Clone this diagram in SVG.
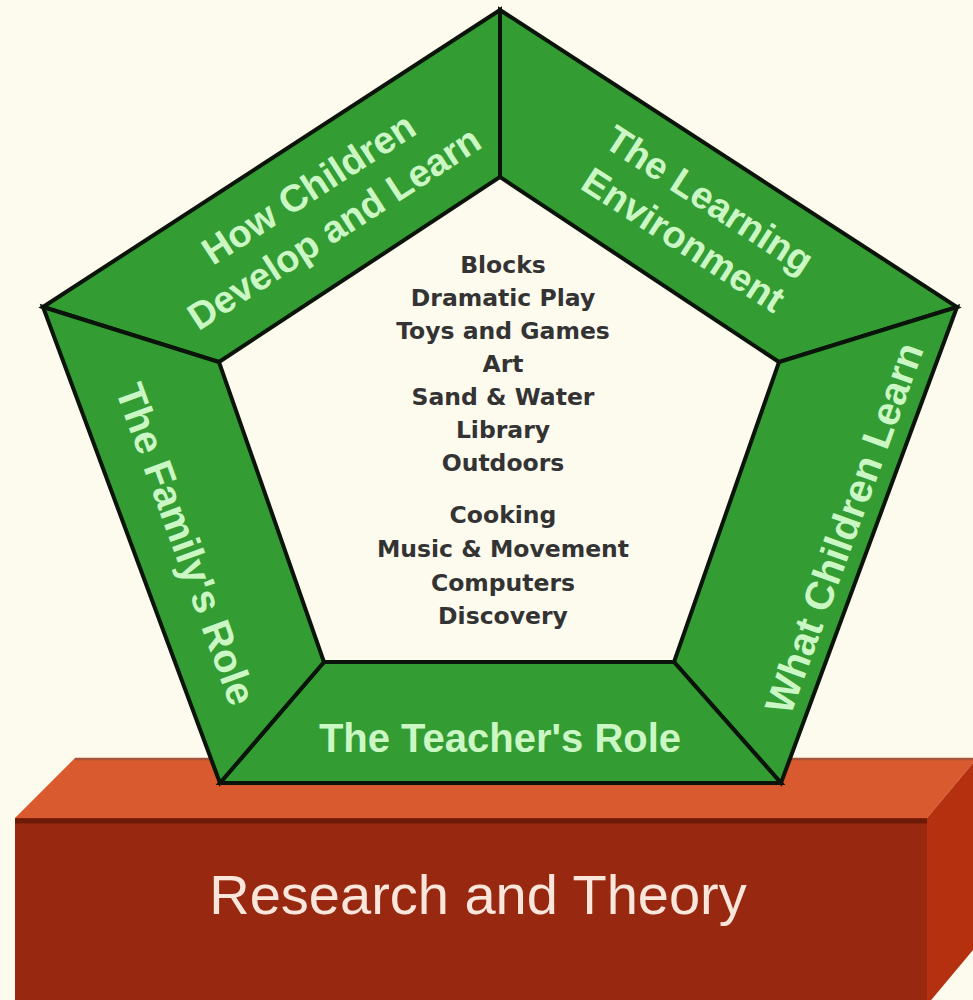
<svg xmlns="http://www.w3.org/2000/svg" width="973" height="1000" viewBox="0 0 973 1000">
  <style>
    .band { fill: #339c33; stroke: #0a140a; stroke-width: 4; stroke-linejoin: miter; }
    .bt { font-family: "Liberation Sans", Arial, sans-serif; font-weight: bold; font-size: 38px; fill: #cbf7c4; text-anchor: middle; }
    .side { font-size: 40px; }
    .list { font-family: "DejaVu Sans", Verdana, sans-serif; font-weight: bold; font-size: 23.5px; fill: #333333; text-anchor: middle; }
  </style>
  <rect x="0" y="0" width="973" height="1000" fill="#fdfaee"/>

  <g id="base">
    <polygon points="15,818 75,758 973,758 973,763 927,818" fill="#d95a2e"/>
    <line x1="75" y1="759" x2="973" y2="759" stroke="#a8543a" stroke-width="2.5"/>
    <rect x="15" y="818" width="912" height="182" fill="#982810"/>
    <line x1="15" y1="821" x2="927" y2="821" stroke="#6e1a08" stroke-width="5"/>
    <polygon points="927,818 973,763 973,950 927,1005" fill="#b5300e"/>
    <text x="478" y="914" font-family="'Liberation Sans', Arial, sans-serif" font-size="56" fill="#fbe6dc" text-anchor="middle">Research and Theory</text>
  </g>

  <g id="how-children">
    <polygon class="band" points="43,307 500,10 500,177 219,362"/>
    <g transform="translate(321,208) rotate(-32.9)">
      <text class="bt" x="0" y="-10">How Children</text>
      <text class="bt" x="0" y="37">Develop and Learn</text>
    </g>
  </g>

  <g id="learning-environment">
    <polygon class="band" points="500,10 957,307 779,362 500,177"/>
    <g transform="translate(697,219) rotate(32.9)">
      <text class="bt" x="0" y="-10">The Learning</text>
      <text class="bt" x="0" y="38">Environment</text>
    </g>
  </g>

  <g id="what-children-learn">
    <polygon class="band" points="957,307 781,783 674,662 779,362"/>
    <text class="bt side" transform="translate(844,528) rotate(-70)" x="0" y="14">What Children Learn</text>
  </g>

  <g id="teachers-role">
    <polygon class="band" points="781,783 220,783 324,662 674,662"/>
    <text class="bt" x="500" y="752" style="font-size:40px">The Teacher's Role</text>
  </g>

  <g id="familys-role">
    <polygon class="band" points="220,783 43,307 219,362 324,662"/>
    <text class="bt side" transform="translate(186,544) rotate(70)" x="0" y="14">The Family's Role</text>
  </g>

  <g id="centers">
    <text class="list" x="503" y="273">Blocks</text>
    <text class="list" x="503" y="306">Dramatic Play</text>
    <text class="list" x="503" y="339">Toys and Games</text>
    <text class="list" x="503" y="372">Art</text>
    <text class="list" x="503" y="405">Sand &amp; Water</text>
    <text class="list" x="503" y="438">Library</text>
    <text class="list" x="503" y="471">Outdoors</text>
    <text class="list" x="503" y="523">Cooking</text>
    <text class="list" x="503" y="557">Music &amp; Movement</text>
    <text class="list" x="503" y="591">Computers</text>
    <text class="list" x="503" y="624">Discovery</text>
  </g>
</svg>
